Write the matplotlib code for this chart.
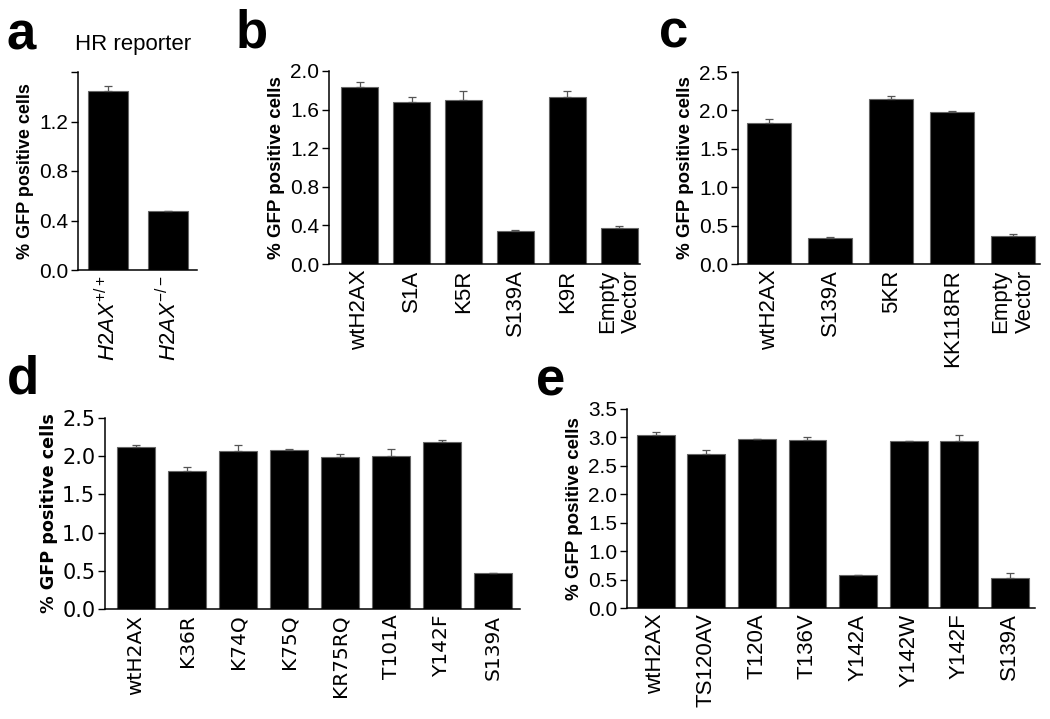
import matplotlib
matplotlib.use('Agg')
import matplotlib.pyplot as plt
import numpy as np

plt.rcParams['font.family'] = ['Liberation Sans', 'DejaVu Sans']
plt.rcParams['mathtext.fontset'] = 'custom'
plt.rcParams['mathtext.rm'] = 'Liberation Sans'
plt.rcParams['mathtext.it'] = 'Liberation Sans:italic'

# ---- data ----
a_labels = [r'$\mathit{H2AX}^{+/+}$', r'$\mathit{H2AX}^{-/-}$']
a_vals = [1.445, 0.48]
a_err = [0.04, 0.0]

b_labels = ['wtH2AX', 'S1A', 'K5R', 'S139A', 'K9R', 'Empty\nVector']
b_vals = [1.83, 1.68, 1.70, 0.34, 1.73, 0.37]
b_err = [0.06, 0.055, 0.09, 0.01, 0.065, 0.02]

c_labels = ['wtH2AX', 'S139A', '5KR', 'KK118RR', 'Empty\nVector']
c_vals = [1.83, 0.34, 2.15, 1.98, 0.37]
c_err = [0.06, 0.01, 0.04, 0.01, 0.02]

d_labels = ['wtH2AX', 'K36R', 'K74Q', 'K75Q', 'KR75RQ', 'T101A', 'Y142F', 'S139A']
d_vals = [2.12, 1.805, 2.07, 2.08, 1.99, 2.00, 2.18, 0.47]
d_err = [0.025, 0.055, 0.08, 0.01, 0.035, 0.10, 0.03, 0.005]

e_labels = ['wtH2AX', 'TS120AV', 'T120A', 'T136V', 'Y142A', 'Y142W', 'Y142F', 'S139A']
e_vals = [3.05, 2.715, 2.97, 2.955, 0.573, 2.93, 2.93, 0.52]
e_err = [0.045, 0.065, 0.01, 0.045, 0.01, 0.01, 0.11, 0.09]

W, H = 1050, 719
fig = plt.figure(figsize=(W / 100, H / 100), dpi=100)


def panel(px, labels, vals, err, ylim, yticks, yticklabels, width, xlim,
          family, tick_fs, xtick_fs, ylab_fs, lab_dx):
    left, right, top, bottom = px
    ax = fig.add_axes([left / W, 1 - bottom / H, (right - left) / W, (bottom - top) / H])
    x = np.arange(len(vals))
    ax.bar(x, vals, width=width, color='black', edgecolor='#666666', linewidth=0.8,
           yerr=[np.zeros(len(err)), err], error_kw=dict(ecolor='#555555', elinewidth=0.9,
                                                         capsize=3, capthick=0.9))
    ax.set_xlim(*xlim)
    ax.set_ylim(*ylim)
    ax.set_yticks(yticks)
    ax.set_yticklabels(yticklabels, fontsize=tick_fs, family=family)
    ax.set_xticks(x)
    ax.set_xticklabels(labels, rotation=90, fontsize=xtick_fs, family=family,
                       multialignment='right')
    ax.tick_params(axis='x', length=0, pad=4)
    ax.tick_params(axis='y', length=5, width=1, pad=2, direction='out')
    for s in ['top', 'right']:
        ax.spines[s].set_visible(False)
    for s in ['left', 'bottom']:
        ax.spines[s].set_linewidth(1.1)
    ax.set_ylabel('% GFP positive cells', fontsize=ylab_fs, fontweight='bold', family=family)
    ax.yaxis.set_label_coords(-lab_dx / (right - left), 0.5)
    return ax


ax_a = panel((78, 197, 72, 270), a_labels, a_vals, a_err, (0, 1.6),
             [0, 0.4, 0.8, 1.2, 1.6], ['0.0', '0.4', '0.8', '1.2', ''], 0.667, (-0.5, 1.48),
             ['Liberation Sans'], 15, 16, 13, 44)
ax_b = panel((329, 640, 71, 264), b_labels, b_vals, b_err, (0, 2.0),
             [0, 0.4, 0.8, 1.2, 1.6, 2.0], ['0.0', '0.4', '0.8', '1.2', '1.6', '2.0'],
             0.71, (-0.59, 5.4), ['Liberation Sans'], 15, 16, 13.5, 44)
ax_c = panel((738, 1040, 72, 264), c_labels, c_vals, c_err, (0, 2.5),
             [0, 0.5, 1.0, 1.5, 2.0, 2.5], ['0.0', '0.5', '1.0', '1.5', '2.0', '2.5'],
             0.72, (-0.51, 4.44), ['Liberation Sans'], 15, 16, 13.5, 44)
ax_d = panel((105, 520, 418, 609), d_labels, d_vals, d_err, (0, 2.5),
             [0, 0.5, 1.0, 1.5, 2.0, 2.5], ['0.0', '0.5', '1.0', '1.5', '2.0', '2.5'],
             0.745, (-0.61, 7.53), ['DejaVu Sans'], 15, 14.5, 12.7, 47)
ax_e = panel((627, 1035, 409, 608), e_labels, e_vals, e_err, (0, 3.5),
             [0, 0.5, 1.0, 1.5, 2.0, 2.5, 3.0, 3.5],
             ['0.0', '0.5', '1.0', '1.5', '2.0', '2.5', '3.0', '3.5'],
             0.75, (-0.57, 7.5), ['Liberation Sans'], 15, 16, 13.5, 44)

# panel letters
for lx, ly, t in [(7, 50, 'a'), (236, 48, 'b'), (659, 48, 'c'), (7, 393, 'd'), (536, 395, 'e')]:
    fig.text(lx / W, 1 - ly / H, t, fontsize=38, fontweight='bold', va='baseline', ha='left')
fig.text(75 / W, 1 - 50 / H, 'HR reporter', fontsize=16, va='baseline', ha='left')

fig.savefig('out.png', dpi=100)
